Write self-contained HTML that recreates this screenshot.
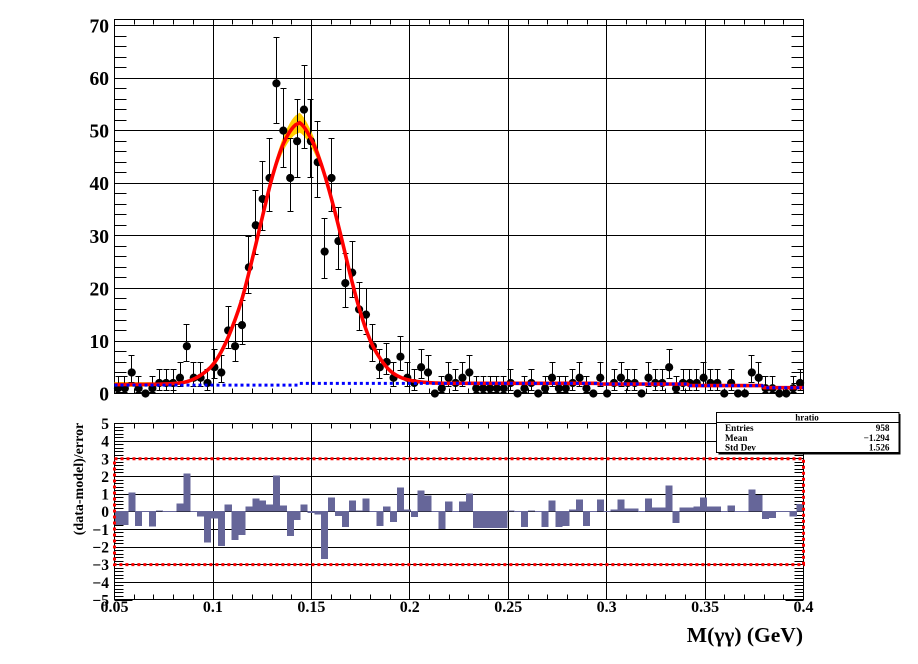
<!DOCTYPE html>
<html lang="en">
<head>
<meta charset="utf-8">
<title>M(γγ) fit with residuals</title>
<style>
html,body{margin:0;padding:0;background:#fff;width:918px;height:664px;overflow:hidden}
svg{display:block;position:absolute;left:0;top:0}
text{font-family:"Liberation Serif",serif;font-weight:bold;fill:#000}
</style>
</head>
<body>
<svg id="chart" width="918" height="664" viewBox="0 0 918 664" xmlns="http://www.w3.org/2000/svg"></svg>
<script>
const counts = [1,1,4,1,0,1,2,2,2,3,9,3,3,2,5,4,12,9,13,24,32,37,41,59,50,41,48,54,48,44,27,41,29,21,23,16,15,9,5,6,3,7,3,2,5,4,0,1,3,2,3,4,1,1,1,1,1,2,0,1,2,0,1,3,1,1,2,3,1,0,3,0,2,3,2,2,0,3,2,2,5,1,2,2,2,3,2,2,0,2,0,0,4,3,1,1,0,0,1,2];
const residuals = [-0.77,-0.77,1.1,-0.83,0,-0.88,0.08,0,0,0.47,2.17,-0.02,-0.3,-1.77,-0.42,-1.96,0.42,-1.62,-1.34,0.3,0.75,0.64,0.42,2.06,0.36,-1.4,-0.49,0.42,-0.1,-0.2,-2.7,0.81,-0.26,-0.89,0.64,0.08,0.75,0,-0.83,0.3,-0.6,1.38,0.13,-0.32,1.2,0.92,-0.02,-1,0.58,0,0.58,1.04,-0.94,-0.94,-0.94,-0.94,-0.94,0.08,0,-0.89,0.08,0,-0.89,0.64,-0.89,-0.83,0.13,0.7,-0.83,0,0.7,0,0.13,0.7,0.19,0.19,0,0.75,0.25,0.25,1.49,-0.66,0.25,0.25,0.3,0.81,0.3,0.3,0,0.36,0,0,1.26,0.96,-0.43,-0.38,0,0,-0.3,0.45];
const signalMass = [0.05,0.07,0.075,0.08,0.085,0.09,0.095,0.1,0.105,0.11,0.115,0.12,0.125,0.13,0.135,0.14,0.144,0.15,0.155,0.16,0.165,0.17,0.175,0.18,0.185,0.19,0.195,0.2,0.205,0.21,0.215,0.22,0.4];
const signalValues = [0.1,0.15,0.2,0.3,0.5,1.1,2.2,3.9,6.9,11.2,16.7,24,31.8,39.4,45.2,48.7,49.6,46.4,41.7,35.4,28.1,20.3,13.4,8.1,4.7,2.4,1.2,0.6,0.3,0.12,0.04,0,0];
const bandMass = [0.05,0.08,0.09,0.1,0.11,0.12,0.13,0.14,0.144,0.15,0.16,0.17,0.18,0.19,0.2,0.22,0.4];
const bandHalfWidth = [0.5,0.35,0.25,0.5,0.9,0.8,0.9,1.7,1.9,1.5,0.6,0.6,0.7,0.4,0.2,0.2,0.2];
const backgroundEdges = [0.05,0.144,0.296,0.342,0.38,0.4];
const backgroundLevels = [1.6,1.93,1.8,1.5,1.1];
const yTicksMain = [0,10,20,30,40,50,60,70];
const yTicksRatio = [-5,-4,-3,-2,-1,0,1,2,3,4,5];
const xTickValues = [0.05,0.1,0.15,0.2,0.25,0.3,0.35,0.4];
const xTickLabels = ["0.05","0.1","0.15","0.2","0.25","0.3","0.35","0.4"];
const statLabels = ["Entries","Mean","Std Dev"];
const statValues = ["958","\u22121.294","1.526"];
const limitLevels = [3,-3];

const X0=114.5,X1=803.5,XMIN=0.05,XMAX=0.4,NBINS=100;
const MB=393.5,MT=19.5,MS=5.257,R0=511.7,RS=17.65,RT=423.5,RB=599.5;
const sx=m=>X0+(m-XMIN)*(X1-X0)/(XMAX-XMIN);
const sy=v=>MB-v*MS;
const sr=v=>R0-v*RS;
const snap=p=>Math.floor(p+0.1)+0.5;
const svg=document.getElementById('chart');
const NS='http://www.w3.org/2000/svg';
function mk(tag,attrs,parent){
  const e=document.createElementNS(NS,tag);
  for(const k in attrs)e.setAttribute(k,attrs[k]);
  (parent||svg).appendChild(e);
  return e;
}
function group(name){
  const g=mk('g',{});
  
  
  return g;
}
function lerp(xs,ys,x){
  for(let i=1;i<xs.length;i++){
    if(x<=xs[i]){const t=(x-xs[i-1])/(xs[i]-xs[i-1]);return ys[i-1]+t*(ys[i]-ys[i-1]);}
  }
  return ys[ys.length-1];
}
function smooth(xs,ys,x){
  let i=1;
  while(i<xs.length-1&&x>xs[i])i++;
  const x0=xs[i-1],x1=xs[i],y0=ys[i-1],y1=ys[i];
  const slope=(a,b)=>(ys[b]-ys[a])/(xs[b]-xs[a]);
  const m0=i>1?slope(i-2,i):slope(i-1,i);
  const m1=i<xs.length-1?slope(i-1,i+1):slope(i-1,i);
  const h=x1-x0,t=(x-x0)/h,t2=t*t,t3=t2*t;
  return (2*t3-3*t2+1)*y0+(t3-2*t2+t)*h*m0+(-2*t3+3*t2)*y1+(t3-t2)*h*m1;
}
function bgAt(m){
  for(let i=0;i<backgroundLevels.length;i++){
    if(m<backgroundEdges[i+1])return backgroundLevels[i];
  }
  return backgroundLevels[backgroundLevels.length-1];
}
const modelAt=m=>Math.max(smooth(signalMass,signalValues,m),0)+bgAt(m);
function line(parent,x1,y1,x2,y2,w){
  const vertical=(x1===x2);
  const ax=vertical?snap(x1):x1,bx=vertical?snap(x2):x2;
  const ay=vertical?y1:snap(y1),by=vertical?y2:snap(y2);
  return mk('line',{x1:ax,y1:ay,x2:bx,y2:by,stroke:'#000','stroke-width':w||1,'shape-rendering':'crispEdges'},parent);
}

/* ---------- main pad: grid ---------- */
const gridMain=group('main-grid');
yTicksMain.forEach(v=>{ if(v>0) line(gridMain,X0,sy(v),X1,sy(v)); });
xTickValues.forEach(v=>{ line(gridMain,sx(v),MT,sx(v),MB); });

/* ---------- main pad: ticks ---------- */
const ticksMain=group('main-axis-ticks');
for(let v=0;v<=70;v+=2){
  const len=v%10===0?24:12;
  line(ticksMain,X0,sy(v),X0+len,sy(v));
  line(ticksMain,X1,sy(v),X1-len,sy(v));
}
for(let k=5;k<=40;k++){
  const m=k/100;
  const len=k%5===0?10:5;
  line(ticksMain,sx(m),MB,sx(m),MB-len);
  line(ticksMain,sx(m),MT,sx(m),MT+len);
}
const frameMain=mk('rect',{x:X0,y:MT,width:X1-X0,height:MB-MT,fill:'none',stroke:'#000','stroke-width':1,'shape-rendering':'crispEdges'});



/* ---------- model band ---------- */
const STEP=0.001;
const masses=[];
for(let m=XMIN;m<=XMAX+1e-9;m+=STEP)masses.push(m);
let upper='',lower='';
masses.forEach(m=>{
  const c=modelAt(m),h=lerp(bandMass,bandHalfWidth,m);
  upper+=sx(m).toFixed(2)+','+sy(c+h).toFixed(2)+' ';
});
masses.slice().reverse().forEach(m=>{
  const c=modelAt(m),h=lerp(bandMass,bandHalfWidth,m);
  lower+=sx(m).toFixed(2)+','+sy(c-h).toFixed(2)+' ';
});
const band=mk('polygon',{points:upper+lower,fill:'#ffcc00',stroke:'none'});



/* ---------- data points ---------- */
const dataGroup=group('data-points');
const W=(XMAX-XMIN)/NBINS;
counts.forEach((n,i)=>{
  const m=XMIN+W*(i+0.5),x=sx(m),y=sy(n);
  if(n>0){
    const up=1+Math.sqrt(n+0.75),lo=Math.sqrt(n-0.25);
    const sxp=snap(x);
    const p=`M${sxp} ${sy(n+up)}V${sy(n-lo)}M${sxp-3} ${snap(sy(n+up))}H${sxp+3}M${sxp-3} ${snap(sy(n-lo))}H${sxp+3}`;
    const eb=mk('path',{d:p,stroke:'#000','stroke-width':1,fill:'none','shape-rendering':'crispEdges'},dataGroup);
    
    
  }
  const c=mk('circle',{cx:x,cy:y,r:4.1,fill:'#000'},dataGroup);
  
  
});

/* ---------- curves ---------- */
const modelPts=masses.map(m=>sx(m).toFixed(2)+','+sy(modelAt(m)).toFixed(2)).join(' ');
const modelLine=mk('polyline',{points:modelPts,fill:'none',stroke:'#ff0000','stroke-width':3.6,'stroke-linejoin':'round'});


const bgPts=masses.map(m=>sx(m).toFixed(2)+','+sy(bgAt(m)).toFixed(2)).join(' ');
const bgLine=mk('polyline',{points:bgPts,fill:'none',stroke:'#0000ff','stroke-width':3,'stroke-dasharray':'3 3'});



/* ---------- main tick labels ---------- */
const labelsMain=group('main-y-tick-labels');
yTicksMain.forEach(v=>{
  const t=mk('text',{x:109,y:sy(v)+7,'text-anchor':'end','font-size':19.5},labelsMain);
  t.textContent=String(v);
  
  
});

/* ---------- ratio pad ---------- */
const gridRatio=group('ratio-grid');
yTicksRatio.forEach(v=>{ if(Math.abs(v)<5) line(gridRatio,X0,sr(v),X1,sr(v)); });
xTickValues.forEach(v=>{ line(gridRatio,sx(v),RT,sx(v),RB); });
const ticksRatio=group('ratio-axis-ticks');
for(let k=-25;k<=25;k++){
  const v=k/5;
  const len=k%5===0?18:9;
  line(ticksRatio,X0,sr(v),X0+len,sr(v));
  line(ticksRatio,X1,sr(v),X1-len,sr(v));
}
for(let k=5;k<=40;k++){
  const m=k/100;
  const len=k%5===0?10:5;
  line(ticksRatio,sx(m),RB,sx(m),RB-len);
  line(ticksRatio,sx(m),RT,sx(m),RT+len);
}
const barsGroup=group('residual-bars');
residuals.forEach((v,i)=>{
  const x=sx(XMIN+W*i),w=sx(XMIN+W*(i+1))-x;
  const y=Math.min(sr(v),R0-0.5),h=Math.max(Math.abs(v)*RS,1);
  const b=mk('rect',{x:x,y:y,width:w+0.15,height:h,fill:'#666699','shape-rendering':'crispEdges'},barsGroup);
  
  
});
const frameRatio=mk('rect',{x:X0,y:RT,width:X1-X0,height:RB-RT,fill:'none',stroke:'#000','stroke-width':1,'shape-rendering':'crispEdges'});



const limits=mk('path',{d:`M${X0} ${sr(limitLevels[0])}H${X1}V${sr(limitLevels[1])}H${X0}Z`,fill:'none',stroke:'#ff0000','stroke-width':3,'stroke-dasharray':'3 3'});



const labelsRatio=group('ratio-y-tick-labels');
yTicksRatio.forEach(v=>{
  const t=mk('text',{x:109,y:sr(v)+5.5,'text-anchor':'end','font-size':15.5},labelsRatio);
  t.textContent=(v<0?'\u2212':'')+Math.abs(v);
  
  
});
const labelsX=group('x-tick-labels');
xTickValues.forEach((v,i)=>{
  const t=mk('text',{x:sx(v),y:612,'text-anchor':'middle','font-size':16},labelsX);
  t.textContent=xTickLabels[i];
  
  
});

const yTitle=mk('text',{x:0,y:0,'text-anchor':'middle','font-size':14,transform:'translate(83,479) rotate(-90)'});
yTitle.textContent='(data-model)/error';


const xTitle=mk('text',{x:803,y:642,'text-anchor':'end','font-size':21.5});
xTitle.textContent='M(γγ) (GeV)';



/* ---------- stats box ---------- */
const stats=group('stats-box');
const shadow=mk('rect',{x:718.5,y:414,width:182,height:40.5,fill:'#000'},stats);


const box=mk('rect',{x:716.5,y:412.5,width:182.5,height:40,fill:'#fff',stroke:'#000','stroke-width':1,'shape-rendering':'crispEdges'},stats);


line(stats,716.5,422.5,899,422.5);
const statTitle=mk('text',{x:807,y:420.5,'text-anchor':'middle','font-size':9},stats);
statTitle.textContent='hratio';


statLabels.forEach((s,i)=>{
  const yy=431+i*9.8;
  const a=mk('text',{x:725,y:yy,'font-size':9.2},stats);
  a.textContent=s;
  
  
  const b=mk('text',{x:889.5,y:yy,'text-anchor':'end','font-size':9.2},stats);
  b.textContent=statValues[i];
  
  
});
</script>
</body>
</html>
